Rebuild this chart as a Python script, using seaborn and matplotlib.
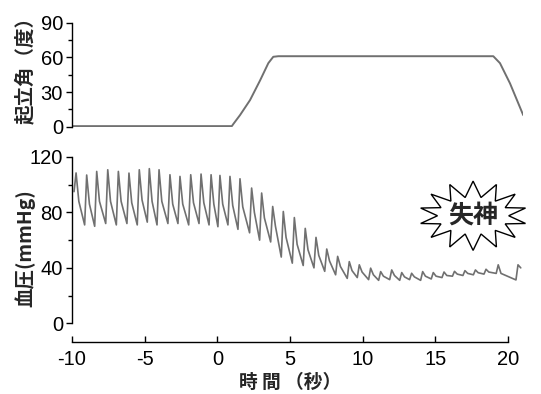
# tilt-table test: tilt angle and blood pressure vs time
import numpy as np
import pandas as pd
import matplotlib
matplotlib.use('Agg')
from matplotlib import pyplot as plt
from matplotlib.ticker import MultipleLocator
from matplotlib.patches import Polygon
import seaborn as sns

#* data
tilt_t = [-9.93, 1.0, 1.10, 1.56, 2.25, 2.94, 3.51, 3.85, 4.2, 18.99, 19.45, 20.14, 21.05]
tilt_deg = [0.5, 0.5, 2.3, 10, 23, 40, 55, 60.5, 61, 61, 55, 37.5, 10]

# one entry per heart beat: time of systolic peak (s), peak, trough before it, shoulder after it
beat_t = [-9.72, -8.99, -8.30, -7.54, -6.81, -6.08, -5.37, -4.68, -4.01, -3.26,
          -2.57, -1.83, -1.12, -0.43, 0.18, 0.87, 1.56, 2.36, 3.05, 3.81,
          4.54, 5.30, 6.05, 6.79, 7.53, 8.28, 9.08, 9.77, 10.55, 11.24,
          12.00, 12.69, 13.37, 14.13, 14.86, 15.60, 16.32, 17.04, 17.76, 18.49,
          19.33, 20.69]
sys_bp = [108.5, 107, 109.6, 110.8, 109.6, 108.4, 110.8, 111.6, 110.8, 107.2,
          106, 107.2, 107.7, 107.2, 106.7, 106, 104.3, 97.6, 94, 84.3,
          80.7, 76.3, 68.5, 62, 53.6, 48.3, 44.5, 42.2, 39.8, 37.3,
          38.5, 36.6, 36.1, 37.3, 36.6, 37, 37.5, 38, 38.5, 39,
          42.2, 42.2]
dia_bp = [95, 71, 70, 72, 71, 72, 71, 73, 71, 72,
          72, 71, 72, 71, 69.7, 71, 67.8, 65.3, 60, 58.7,
          47.8, 43.4, 41.7, 40, 37.5, 35, 32.4, 33, 31.5, 31,
          31.5, 31, 31.5, 31, 32, 33, 34, 34.5, 35, 35.5,
          36, 31.3]
notch_bp = [88, 86, 88, 88, 88, 87, 89, 88, 88, 86,
            86, 87, 87, 86, 86, 85, 84, 80, 76, 70,
            62, 57, 53, 49, 45, 41, 38, 37, 35, 34,
            34.5, 33.5, 33.5, 34, 34, 34.5, 35.5, 36, 36.5, 37,
            36, 40]

x_ticks = [-10, -5, 0, 5, 10, 15, 20]

# build the pulse trace: trough -> peak -> shoulder for every beat
bp_time, bp_val = [], []
for t, d, s, n in zip(beat_t, dia_bp, sys_bp, notch_bp):
    bp_time += [t - 0.14, t, t + 0.19]
    bp_val += [d, s, n]
bp = pd.DataFrame({'t': bp_time, 'bp': bp_val})
tilt = pd.DataFrame({'t': tilt_t, 'deg': tilt_deg})

sns.set_theme(style='ticks')
plt.rcParams['font.family'] = ['Liberation Sans', 'Noto Sans CJK JP', 'DejaVu Sans']
plt.rcParams['axes.linewidth'] = 1.0

LINE = '#707070'
CJK = ['Noto Sans CJK JP', 'DejaVu Sans']
W, H = 541, 394

fig = plt.figure(figsize=(W / 100, H / 100), dpi=100)
ax_top = fig.add_axes([72 / W, 1 - 126.7 / H, 450.5 / W, 104 / H])
ax_bp = fig.add_axes([72 / W, 1 - 323.3 / H, 450.5 / W, 166.3 / H])

sns.lineplot(data=tilt, x='t', y='deg', ax=ax_top, color=LINE, lw=1.4, sort=False, estimator=None)
sns.lineplot(data=bp, x='t', y='bp', ax=ax_bp, color=LINE, lw=1.2, sort=False, estimator=None)

for ax in (ax_top, ax_bp):
    ax.set_xlim(-10, 21)
    ax.spines['top'].set_visible(False)
    ax.spines['right'].set_visible(False)
    ax.spines['left'].set_color('black')
    ax.tick_params(axis='y', which='major', direction='out', length=4, width=1,
                   pad=2.5, labelsize=14.5, colors='black')
    ax.tick_params(axis='y', which='minor', direction='out', length=3, width=1, colors='black')
    ax.set_ylabel('')

# top panel: tilt angle
ax_top.set_ylim(0, 90)
ax_top.yaxis.set_major_locator(MultipleLocator(30))
ax_top.yaxis.set_minor_locator(MultipleLocator(15))
ax_top.spines['bottom'].set_visible(False)
ax_top.set_xticks([])
ax_top.set_xlabel('')

# bottom panel: blood pressure
ax_bp.set_ylim(0, 120)
ax_bp.yaxis.set_major_locator(MultipleLocator(40))
ax_bp.yaxis.set_minor_locator(MultipleLocator(20))
ax_bp.spines['left'].set_bounds(0, 120)
ax_bp.spines['bottom'].set_position(('outward', 13.3))
ax_bp.spines['bottom'].set_bounds(-10, 20)
ax_bp.spines['bottom'].set_color('black')
ax_bp.set_xticks(x_ticks)
ax_bp.set_xticklabels([str(v) for v in x_ticks])
ax_bp.tick_params(axis='x', direction='in', length=4, width=1, pad=6,
                  labelsize=14.5, colors='black')
ax_bp.set_xlabel('')

# axis titles
fig.text(25 / W, 1 - 65 / H, '起立角（度）', family=CJK, fontweight='bold', fontsize=14,
         rotation=90, ha='center', va='center')
fig.text(25 / W, 1 - 248 / H, '血圧(mmHg)', family=CJK, fontweight='bold', fontsize=14,
         rotation=90, ha='center', va='center')
fig.text(290 / W, 1 - 382 / H, '時 間 （秒）', family=CJK, fontweight='bold', fontsize=13.5,
         ha='center', va='center')

# "syncope" starburst
cx, cy = 17.6, 77.6
n_spikes = 14
ang = np.linspace(0, 2 * np.pi, 2 * n_spikes, endpoint=False) + np.pi / 2
rx = np.where(np.arange(2 * n_spikes) % 2 == 0, 3.7, 2.45)
ry = np.where(np.arange(2 * n_spikes) % 2 == 0, 25.0, 13.5)
star = Polygon(np.column_stack([cx + rx * np.cos(ang), cy + ry * np.sin(ang)]),
               closed=True, facecolor='white', edgecolor='black', lw=1.0, clip_on=False, zorder=3)
ax_bp.add_patch(star)
ax_bp.text(cx, cy, '失神', family=CJK, fontweight='bold', fontsize=18,
           ha='center', va='center', zorder=4)

plt.savefig('out.png', dpi=100)
plt.close()
